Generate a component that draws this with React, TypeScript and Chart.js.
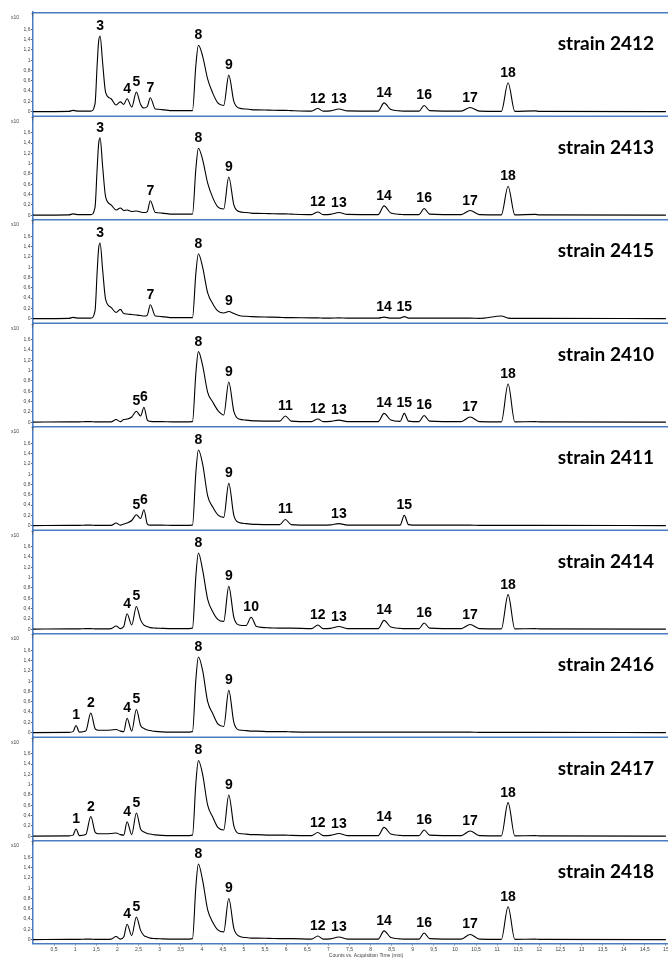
import React, { useEffect, useRef } from "react";
import { Chart, registerables } from "chart.js";

Chart.register(...registerables);

// retention time grid (min)
const times = [
  0, 0.85, 0.95, 1.02, 1.1, 1.25, 1.37, 1.47, 1.52, 1.555, 1.59,
  1.65, 1.72, 1.85, 1.97, 2.07, 2.15, 2.23, 2.34, 2.45, 2.55,
  2.63, 2.71, 2.78, 2.9, 3.05, 3.3, 3.6, 3.78, 3.86, 3.92, 4.02,
  4.14, 4.26, 4.38, 4.52, 4.64, 4.76, 4.88, 5.05, 5.17, 5.3,
  5.6, 5.85, 5.98, 6.12, 6.6, 6.75, 6.88, 7.05, 7.25, 7.45,
  8.18, 8.32, 8.48, 8.7, 8.8, 8.9, 9.15, 9.27, 9.4, 10.15,
  10.36, 10.58, 11.1, 11.26, 11.42, 11.9, 12.0, 15.0,
];

// intensities (x10^7 counts)
const s2412 = [
  0, 0.005, 0.025, 0.015, 0.01, 0.01, 0.01, 0.15, 0.9, 1.36, 1.47,
  0.95, 0.38, 0.25, 0.13, 0.19, 0.14, 0.25, 0.09, 0.38, 0.14,
  0.07, 0.1, 0.27, 0.05, 0.04, 0.02, 0.02, 0.02, 0.9, 1.29, 1.08,
  0.63, 0.36, 0.17, 0.12, 0.71, 0.2, 0.07, 0.05, 0.04, 0.035,
  0.03, 0.025, 0.025, 0.02, 0.01, 0.06, 0.01, 0.015, 0.05, 0.015,
  0.01, 0.17, 0.04, 0.015, 0.01, 0.01, 0.01, 0.12, 0.02, 0.01,
  0.08, 0.01, 0.005, 0.56, 0.005, 0.015, 0.005, 0,
];
const s2413 = [
  0, 0.005, 0.025, 0.015, 0.01, 0.01, 0.01, 0.15, 0.9, 1.38, 1.5,
  0.95, 0.36, 0.2, 0.1, 0.14, 0.09, 0.1, 0.07, 0.08, 0.06,
  0.05, 0.07, 0.28, 0.05, 0.04, 0.02, 0.02, 0.02, 0.9, 1.3, 1.08,
  0.62, 0.34, 0.16, 0.12, 0.74, 0.2, 0.07, 0.05, 0.04, 0.035,
  0.03, 0.025, 0.025, 0.02, 0.01, 0.06, 0.01, 0.015, 0.05, 0.015,
  0.01, 0.18, 0.04, 0.015, 0.01, 0.01, 0.01, 0.13, 0.02, 0.01,
  0.09, 0.01, 0.005, 0.56, 0.005, 0.015, 0.005, 0,
];
const s2415 = [
  0, 0.005, 0.025, 0.015, 0.01, 0.01, 0.01, 0.15, 0.9, 1.36, 1.47,
  0.95, 0.38, 0.22, 0.12, 0.18, 0.1, 0.09, 0.08, 0.07, 0.06,
  0.05, 0.07, 0.27, 0.05, 0.04, 0.02, 0.02, 0.02, 0.88, 1.26, 1.0,
  0.5, 0.29, 0.15, 0.11, 0.14, 0.1, 0.06, 0.045, 0.04, 0.035,
  0.03, 0.025, 0.02, 0.02, 0.015, 0.015, 0.01, 0.01, 0.015, 0.01,
  0.01, 0.03, 0.01, 0.01, 0.04, 0.01, 0.01, 0.01, 0.01, 0.01,
  0.01, 0.005, 0.05, 0.01, 0.005, 0.005, 0.005, 0,
];
const s2410 = [
  0, 0.005, 0.005, 0.005, 0.005, 0.01, 0.01, 0.005, 0.005, 0.005, 0.005,
  0.005, 0.005, 0.005, 0.05, 0.01, 0.05, 0.06, 0.1, 0.21, 0.12,
  0.29, 0.04, 0.015, 0.01, 0.01, 0.005, 0.005, 0.01, 0.95, 1.37, 1.1,
  0.58, 0.39, 0.23, 0.14, 0.78, 0.21, 0.06, 0.04, 0.03, 0.025,
  0.02, 0.02, 0.12, 0.02, 0.01, 0.06, 0.01, 0.015, 0.04, 0.01,
  0.01, 0.17, 0.04, 0.015, 0.17, 0.02, 0.01, 0.13, 0.02, 0.01,
  0.1, 0.01, 0.005, 0.74, 0.005, 0.01, 0.005, 0,
];
const s2411 = [
  0, 0.005, 0.005, 0.005, 0.005, 0.01, 0.01, 0.005, 0.005, 0.005, 0.005,
  0.005, 0.005, 0.005, 0.05, 0.01, 0.03, 0.05, 0.1, 0.21, 0.14,
  0.31, 0.03, 0.01, 0.01, 0.01, 0.005, 0.005, 0.01, 1.03, 1.47, 1.2,
  0.58, 0.36, 0.21, 0.16, 0.82, 0.2, 0.06, 0.04, 0.03, 0.025,
  0.02, 0.02, 0.12, 0.02, 0.01, 0.01, 0.01, 0.015, 0.04, 0.01,
  0.01, 0.01, 0.01, 0.01, 0.2, 0.02, 0.01, 0.01, 0.01, 0.01,
  0.01, 0.005, 0.005, 0.005, 0.005, 0.005, 0.005, 0,
];
const s2414 = [
  0, 0.005, 0.005, 0.005, 0.005, 0.01, 0.01, 0.005, 0.005, 0.005, 0.005,
  0.005, 0.005, 0.01, 0.06, 0.01, 0.05, 0.3, 0.08, 0.44, 0.18,
  0.08, 0.05, 0.03, 0.02, 0.015, 0.01, 0.01, 0.02, 1.03, 1.48, 1.15,
  0.58, 0.34, 0.19, 0.15, 0.83, 0.23, 0.08, 0.07, 0.23, 0.05,
  0.025, 0.02, 0.02, 0.02, 0.01, 0.08, 0.01, 0.015, 0.05, 0.01,
  0.01, 0.17, 0.04, 0.015, 0.01, 0.01, 0.01, 0.12, 0.02, 0.01,
  0.09, 0.01, 0.005, 0.67, 0.005, 0.01, 0.005, 0,
];
const s2416 = [
  0, 0.005, 0.02, 0.14, 0.01, 0.03, 0.38, 0.08, 0.05, 0.045, 0.045,
  0.045, 0.045, 0.05, 0.06, 0.03, 0.02, 0.28, 0.03, 0.45, 0.14,
  0.08, 0.05, 0.04, 0.025, 0.015, 0.01, 0.01, 0.02, 1.03, 1.47, 1.21,
  0.6, 0.37, 0.17, 0.12, 0.82, 0.2, 0.05, 0.04, 0.03, 0.03,
  0.02, 0.02, 0.02, 0.015, 0.01, 0.01, 0.01, 0.01, 0.01, 0.01,
  0.01, 0.01, 0.01, 0.01, 0.01, 0.01, 0.01, 0.01, 0.01, 0.01,
  0.01, 0.005, 0.005, 0.005, 0.005, 0.005, 0.005, 0,
];
const s2417 = [
  0, 0.005, 0.02, 0.14, 0.01, 0.03, 0.38, 0.08, 0.05, 0.045, 0.045,
  0.045, 0.045, 0.05, 0.06, 0.03, 0.02, 0.28, 0.03, 0.45, 0.14,
  0.08, 0.05, 0.04, 0.025, 0.015, 0.01, 0.01, 0.02, 1.03, 1.47, 1.2,
  0.6, 0.37, 0.17, 0.12, 0.8, 0.2, 0.05, 0.04, 0.03, 0.03,
  0.02, 0.02, 0.02, 0.015, 0.01, 0.07, 0.01, 0.015, 0.05, 0.01,
  0.01, 0.17, 0.04, 0.015, 0.01, 0.01, 0.01, 0.12, 0.02, 0.01,
  0.1, 0.01, 0.005, 0.65, 0.005, 0.01, 0.005, 0,
];
const s2418 = [
  0, 0.005, 0.005, 0.005, 0.005, 0.01, 0.01, 0.005, 0.005, 0.005, 0.005,
  0.005, 0.005, 0.01, 0.06, 0.01, 0.05, 0.3, 0.08, 0.44, 0.18,
  0.08, 0.05, 0.03, 0.02, 0.015, 0.01, 0.01, 0.02, 1.03, 1.47, 1.15,
  0.58, 0.34, 0.19, 0.15, 0.8, 0.22, 0.07, 0.04, 0.03, 0.03,
  0.025, 0.02, 0.02, 0.02, 0.01, 0.07, 0.01, 0.015, 0.05, 0.01,
  0.01, 0.17, 0.04, 0.015, 0.01, 0.01, 0.01, 0.13, 0.02, 0.01,
  0.1, 0.01, 0.005, 0.64, 0.005, 0.01, 0.005, 0,
];

const strainNames = [
  "strain 2412", "strain 2413", "strain 2415", "strain 2410", "strain 2411",
  "strain 2414", "strain 2416", "strain 2417", "strain 2418",
];
const strainValues = [s2412, s2413, s2415, s2410, s2411, s2414, s2416, s2417, s2418];

// peak labels (name, retention time of apex)
const peakNames = [
  ["3", "4", "5", "7", "8", "9", "12", "13", "14", "16", "17", "18"],
  ["3", "7", "8", "9", "12", "13", "14", "16", "17", "18"],
  ["3", "7", "8", "9", "14", "15"],
  ["5", "6", "8", "9", "11", "12", "13", "14", "15", "16", "17", "18"],
  ["5", "6", "8", "9", "11", "13", "15"],
  ["4", "5", "8", "9", "10", "12", "13", "14", "16", "17", "18"],
  ["1", "2", "4", "5", "8", "9"],
  ["1", "2", "4", "5", "8", "9", "12", "13", "14", "16", "17", "18"],
  ["4", "5", "8", "9", "12", "13", "14", "16", "17", "18"],
];
const peakTimes = [
  [1.59, 2.23, 2.45, 2.78, 3.92, 4.64, 6.75, 7.25, 8.32, 9.27, 10.36, 11.26],
  [1.59, 2.78, 3.92, 4.64, 6.75, 7.25, 8.32, 9.27, 10.36, 11.26],
  [1.59, 2.78, 3.92, 4.64, 8.32, 8.8],
  [2.45, 2.63, 3.92, 4.64, 5.98, 6.75, 7.25, 8.32, 8.8, 9.27, 10.36, 11.26],
  [2.45, 2.63, 3.92, 4.64, 5.98, 7.25, 8.8],
  [2.23, 2.45, 3.92, 4.64, 5.17, 6.75, 7.25, 8.32, 9.27, 10.36, 11.26],
  [1.02, 1.37, 2.23, 2.45, 3.92, 4.64],
  [1.02, 1.37, 2.23, 2.45, 3.92, 4.64, 6.75, 7.25, 8.32, 9.27, 10.36, 11.26],
  [2.23, 2.45, 3.92, 4.64, 6.75, 7.25, 8.32, 9.27, 10.36, 11.26],
];

const yTickValues = [0, 0.2, 0.4, 0.6, 0.8, 1, 1.2, 1.4, 1.6];
const xTickValues = [
  0.5, 1, 1.5, 2, 2.5, 3, 3.5, 4, 4.5, 5, 5.5, 6, 6.5, 7, 7.5,
  8, 8.5, 9, 9.5, 10, 10.5, 11, 11.5, 12, 12.5, 13, 13.5, 14, 14.5, 15,
];
const xTitle = "Counts vs. Acquisition Time (min)";
const yMultiplier = "x10";
const yExponent = "7";

const BLUE = "#4a7cc4";
const TINY = { size: 5, family: "'Liberation Sans', Arial, sans-serif" };
const fmt = (v: number) => String(v).replace(".", ",");

const overlayPlugin = {
  id: "overlay",
  afterDraw(chart: any) {
    const ctx = chart.ctx;
    const area = chart.chartArea;
    const xs = chart.scales.x;
    ctx.save();
    strainNames.forEach((name, k) => {
      const ys = chart.scales["y" + k];
      // panel top border
      ctx.strokeStyle = BLUE;
      ctx.lineWidth = 1.5;
      ctx.beginPath();
      ctx.moveTo(area.left, ys.top + 0.75);
      ctx.lineTo(area.right, ys.top + 0.75);
      ctx.stroke();
      // x10^7 unit
      ctx.fillStyle = "#444";
      ctx.font = "5px 'Liberation Sans', Arial, sans-serif";
      ctx.textAlign = "left";
      ctx.textBaseline = "middle";
      ctx.fillText(yMultiplier, 11, ys.top + 6);
      ctx.fillText(yExponent, 31, ys.top + 4);
      // strain label
      ctx.fillStyle = "#000";
      ctx.font = "bold 19px Lato, 'Open Sans', sans-serif";
      ctx.textAlign = "right";
      ctx.textBaseline = "middle";
      ctx.fillText(name, area.right - 14, ys.top + 32);
      // peak labels
      ctx.font = "bold 14px 'Liberation Sans', Arial, sans-serif";
      ctx.textAlign = "center";
      ctx.textBaseline = "alphabetic";
      const vals = strainValues[k];
      peakNames[k].forEach((pn, j) => {
        const t = peakTimes[k][j];
        const i = times.indexOf(t);
        const v = vals[i];
        ctx.fillText(pn, xs.getPixelForValue(t), ys.getPixelForValue(v) - 6);
      });
    });
    ctx.fillStyle = "#444";
    ctx.font = "5px 'Liberation Sans', Arial, sans-serif";
    ctx.textAlign = "center";
    ctx.textBaseline = "middle";
    ctx.fillText(xTitle, 366, 955.5);
    ctx.restore();
  },
};

export default function App() {
  const ref = useRef<HTMLCanvasElement | null>(null);
  useEffect(() => {
    if (!ref.current) return;
    const datasets = strainValues.map((vals, k) => ({
      label: strainNames[k],
      data: times.map((t, i) => ({ x: t, y: vals[i] })),
      yAxisID: "y" + k,
      xAxisID: "x",
      borderColor: "#000",
      borderWidth: 1.1,
      pointRadius: 0,
      fill: false,
      cubicInterpolationMode: "monotone" as const,
    }));
    const scales: any = {
      x: {
        type: "linear",
        position: "bottom",
        min: 0,
        max: 15.05,
        afterFit: (s: any) => {
          s.height = 14.5;
          s.paddingLeft = 0;
          s.paddingRight = 0;
        },
        afterBuildTicks: (s: any) => {
          s.ticks = xTickValues.map((v) => ({ value: v }));
        },
        ticks: {
          font: TINY,
          color: "#444",
          padding: 1,
          maxRotation: 0,
          autoSkip: false,
          callback: (v: any) => fmt(v),
        },
        grid: { drawOnChartArea: false, tickLength: 2, color: "#666" },
        border: { color: BLUE, width: 1.5 },
      },
    };
    for (let k = strainNames.length - 1; k >= 0; k--) {
      scales["y" + k] = {
        type: "linear",
        position: "left",
        stack: "panels",
        stackWeight: 1,
        min: -0.075,
        max: 1.935,
        afterFit: (s: any) => {
          s.width = 33;
          s.paddingTop = 0;
          s.paddingBottom = 0;
        },
        afterBuildTicks: (s: any) => {
          s.ticks = yTickValues.map((v) => ({ value: v }));
        },
        ticks: {
          font: TINY,
          color: "#444",
          padding: 0.5,
          autoSkip: false,
          callback: (v: any) => fmt(v),
        },
        grid: { drawOnChartArea: false, tickLength: 2, color: "#666" },
        border: { color: BLUE, width: 1.5 },
      };
    }
    const chart = new Chart(ref.current, {
      type: "line",
      data: { datasets },
      options: {
        animation: false,
        responsive: true,
        maintainAspectRatio: false,
        devicePixelRatio: 1,
        layout: { padding: { top: 12, left: 0, right: 0, bottom: 0 } },
        plugins: { legend: { display: false }, tooltip: { enabled: false } },
        events: [],
        scales,
      },
      plugins: [overlayPlugin],
    });
    return () => chart.destroy();
  }, []);
  return (
    <div style={{ position: "absolute", left: 0, top: 0, width: 668, height: 958, background: "#fff" }}>
      <canvas ref={ref} />
    </div>
  );
}
